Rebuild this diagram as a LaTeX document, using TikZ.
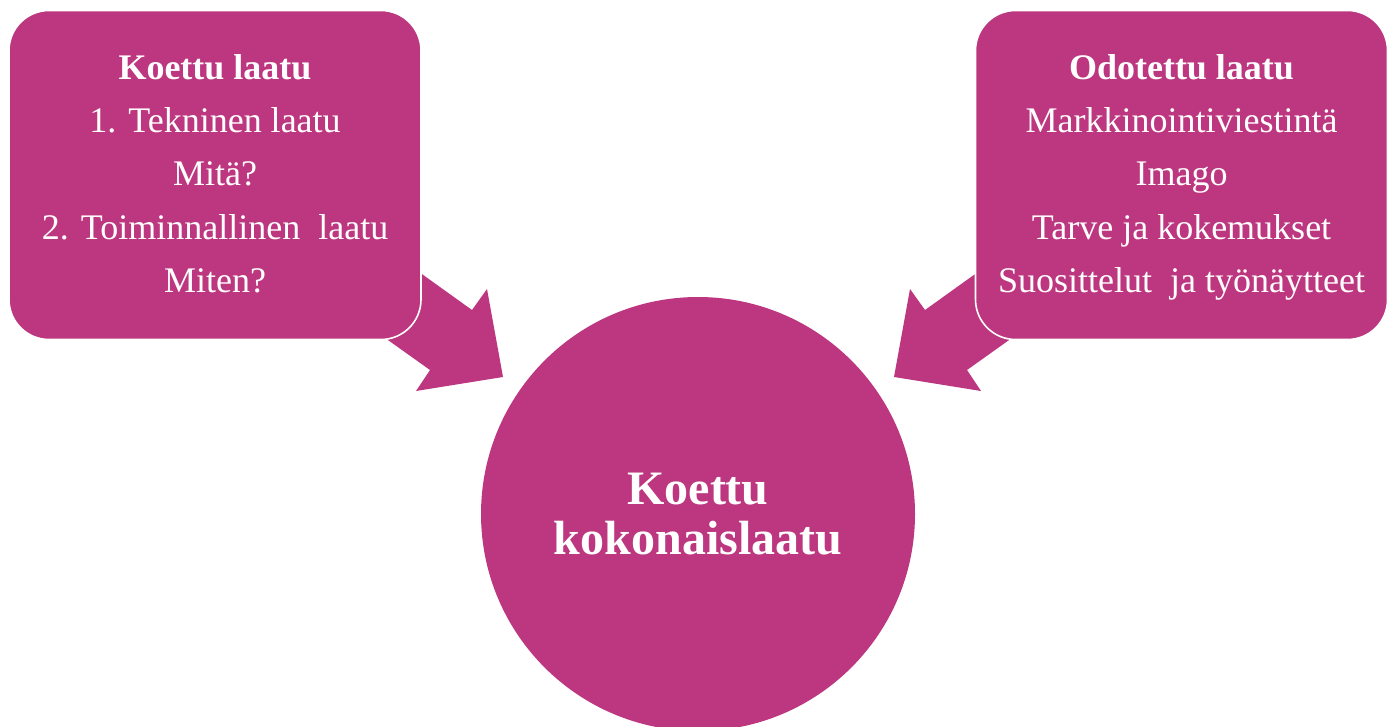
\documentclass[tikz,border=0pt]{standalone}
\usepackage{fontspec}
\setmainfont{Liberation Serif}
\definecolor{mag}{HTML}{BD3780}
\begin{document}
\begin{tikzpicture}[x=0.75pt,y=-0.75pt,
  blockarrow/.style={fill=mag,draw=none},
  infobox/.style={rectangle,rounded corners=30pt,fill=mag,draw=white,line width=1.2pt,
    minimum width=309pt,minimum height=246.75pt,text=white,align=center,
    font=\fontsize{27}{40}\selectfont,inner sep=0pt},
  hub/.style={circle,fill=mag,draw=none,minimum size=325.5pt,text=white,align=center,
    font=\fontsize{36}{37.5}\selectfont\bfseries,inner sep=0pt}]
\useasboundingbox (0,0) rectangle (1394,727);
% block arrows (behind the boxes)
\fill[blockarrow] (380,244) -- (472,310) -- (487,289) -- (503,377) -- (416,391) -- (430,370) -- (350,313) -- cycle;
\fill[blockarrow] (1017,244) -- (925,310) -- (910,289) -- (894,377) -- (981,391) -- (967,370) -- (1047,313) -- cycle;
% boxes
\node[infobox] (koettu) at (215,175) {\strut\textbf{Koettu laatu}\\1. Tekninen laatu\\Mitä?\\2. Toiminnallinen\ \ laatu\\Miten?\strut};
\node[infobox] (odotettu) at (1181.5,175) {\strut\textbf{Odotettu laatu}\\Markkinointiviestintä\\Imago\\Tarve ja kokemukset\\Suosittelut\ \ ja työnäytteet\strut};
% centre circle
\node[hub] (koko) at (698,514) {Koettu\\kokonaislaatu};
\end{tikzpicture}
\end{document}
